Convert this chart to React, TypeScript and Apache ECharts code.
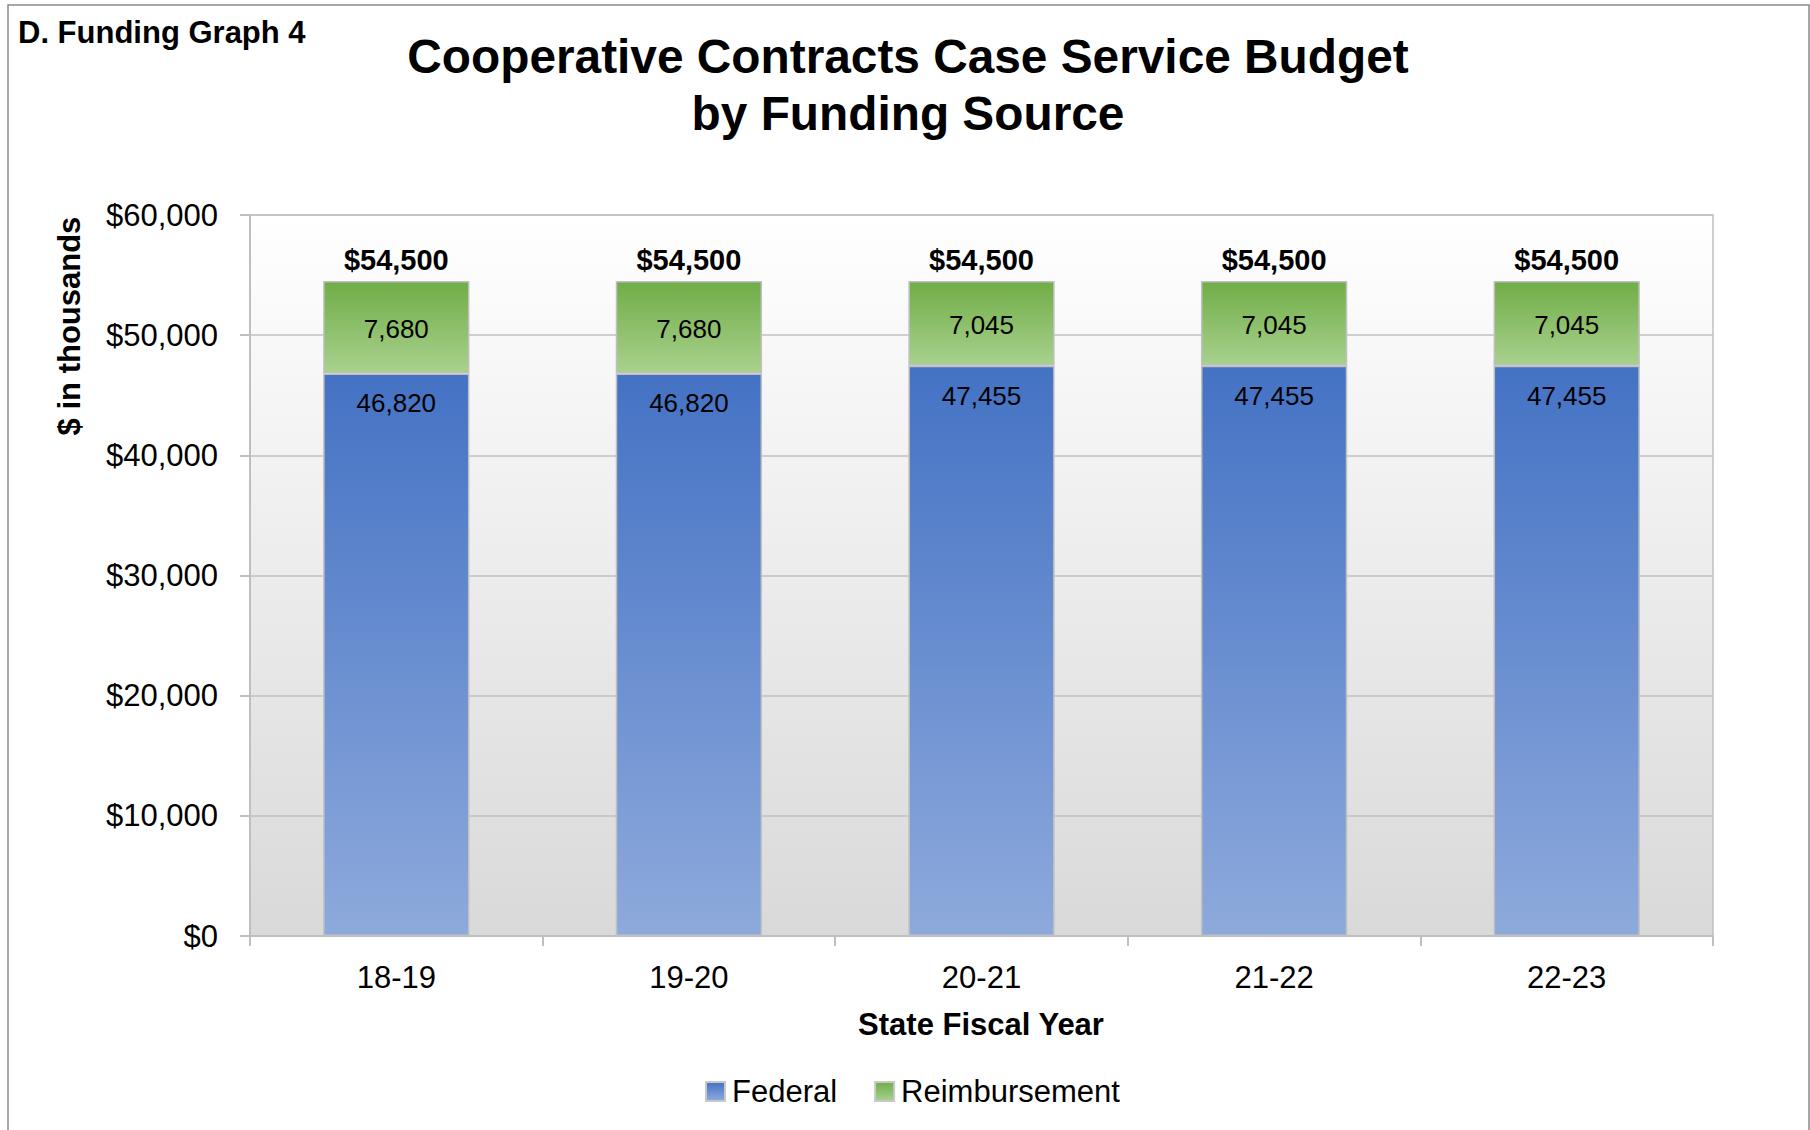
import React, { useEffect, useRef } from "react";
import * as echarts from "echarts";

const categories = ["18-19", "19-20", "20-21", "21-22", "22-23"];
const federal = [46820, 46820, 47455, 47455, 47455];
const reimbursement = [7680, 7680, 7045, 7045, 7045];
const totals = [54500, 54500, 54500, 54500, 54500];
const yTicks = { min: 0, max: 60000, interval: 10000 };

const FONT = "'Liberation Sans', Arial, Helvetica, sans-serif";

const fmt = (v: number) => v.toLocaleString("en-US");

export default function App() {
  const ref = useRef<HTMLDivElement>(null);
  useEffect(() => {
    if (!ref.current) return;
    const chart = echarts.init(ref.current, null, { renderer: "svg" });
    const grad = (top: string, bottom: string) =>
      new echarts.graphic.LinearGradient(0, 0, 0, 1, [
        { offset: 0, color: top },
        { offset: 1, color: bottom },
      ]);
    const option: any = {
      animation: false,
      backgroundColor: "#ffffff",
      textStyle: { fontFamily: FONT },
      grid: {
        left: 250,
        top: 215,
        right: 97,
        bottom: 194,
        show: true,
        borderColor: "#c0c0c0",
        borderWidth: 1.5,
        backgroundColor: grad("#ffffff", "#d9d9d9"),
      },
      legend: {
        data: ["Federal", "Reimbursement"],
        left: 700,
        top: 1071,
        icon: "rect",
        itemWidth: 19,
        itemHeight: 19,
        itemGap: 37,
        itemStyle: { borderColor: "#c8c8c8", borderWidth: 2 },
        textStyle: { fontSize: 31, color: "#000", fontFamily: FONT, padding: [0, 0, 0, 2] },
      },
      xAxis: {
        type: "category",
        data: categories,
        axisLine: { show: true, lineStyle: { color: "#bfbfbf", width: 2 } },
        axisTick: { show: true, length: 10, lineStyle: { color: "#bfbfbf", width: 2 } },
        axisLabel: { fontSize: 31, color: "#000", margin: 26, fontFamily: FONT },
        splitLine: { show: false },
      },
      yAxis: {
        type: "value",
        min: yTicks.min,
        max: yTicks.max,
        interval: yTicks.interval,
        axisLine: { show: true, lineStyle: { color: "#bfbfbf", width: 2 } },
        axisTick: { show: true, length: 10, lineStyle: { color: "#bfbfbf", width: 2 } },
        axisLabel: {
          fontSize: 31,
          color: "#000",
          margin: 32,
          fontFamily: FONT,
          formatter: (v: number) => "$" + fmt(v),
        },
        splitLine: { show: true, lineStyle: { color: "#c0c0c0", width: 1.5 } },
      },
      series: [
        {
          name: "Federal",
          type: "bar",
          stack: "total",
          barWidth: "50%",
          data: federal,
          itemStyle: {
            color: grad("#4472c4", "#8eaadc"),
            borderColor: "#c0c0c0",
            borderWidth: 1.5,
          },
          label: {
            show: true,
            position: "insideTop",
            distance: 17,
            fontSize: 26,
            color: "#000",
            fontFamily: FONT,
            formatter: (p: any) => fmt(p.value),
          },
        },
        {
          name: "Reimbursement",
          type: "bar",
          stack: "total",
          barWidth: "50%",
          data: reimbursement,
          itemStyle: {
            color: grad("#70ad47", "#a9d18e"),
            borderColor: "#c0c0c0",
            borderWidth: 1.5,
          },
          label: {
            show: true,
            position: "inside",
            offset: [0, 2],
            fontSize: 26,
            color: "#000",
            fontFamily: FONT,
            formatter: (p: any) => fmt(p.value),
          },
        },
        {
          name: "Total",
          type: "scatter",
          data: totals,
          symbolSize: 1,
          itemStyle: { color: "rgba(0,0,0,0)", opacity: 1 },
          silent: true,
          z: 5,
          label: {
            show: true,
            position: "top",
            distance: 6,
            fontSize: 29,
            fontWeight: "bold",
            color: "#000",
            opacity: 1,
            fontFamily: FONT,
            formatter: (p: any) => "$" + fmt(p.value),
          },
        },
      ],
      graphic: [
        {
          type: "rect",
          z: -10,
          silent: true,
          shape: { x: 8, y: 5, width: 1801, height: 1200 },
          style: { fill: "none", stroke: "#8a8a8a", lineWidth: 1.5 },
        },
        {
          type: "text",
          left: 18,
          top: 17,
          style: {
            text: "D. Funding Graph 4",
            fontSize: 31,
            fontWeight: "bold",
            fill: "#000",
            fontFamily: FONT,
          },
        },
        {
          type: "text",
          x: 908,
          y: 56,
          style: {
            text: "Cooperative Contracts Case Service Budget",
            fontSize: 47.8,
            fontWeight: "bold",
            fill: "#000",
            fontFamily: FONT,
            align: "center",
            verticalAlign: "middle",
          },
        },
        {
          type: "text",
          x: 908,
          y: 113,
          style: {
            text: "by Funding Source",
            fontSize: 47.8,
            fontWeight: "bold",
            fill: "#000",
            fontFamily: FONT,
            align: "center",
            verticalAlign: "middle",
          },
        },
        {
          type: "text",
          x: 981,
          y: 1024,
          style: {
            text: "State Fiscal Year",
            fontSize: 31,
            fontWeight: "bold",
            fill: "#000",
            fontFamily: FONT,
            align: "center",
            verticalAlign: "middle",
          },
        },
        {
          type: "text",
          x: 69,
          y: 326,
          rotation: Math.PI / 2,
          style: {
            text: "$ in thousands",
            fontSize: 31,
            fontWeight: "bold",
            fill: "#000",
            fontFamily: FONT,
            align: "center",
            verticalAlign: "middle",
          },
        },
      ],
    };
    chart.setOption(option);
    return () => chart.dispose();
  }, []);
  return (
    <div
      ref={ref}
      style={{ position: "fixed", left: 0, top: 0, width: 1810, height: 1130 }}
    />
  );
}
